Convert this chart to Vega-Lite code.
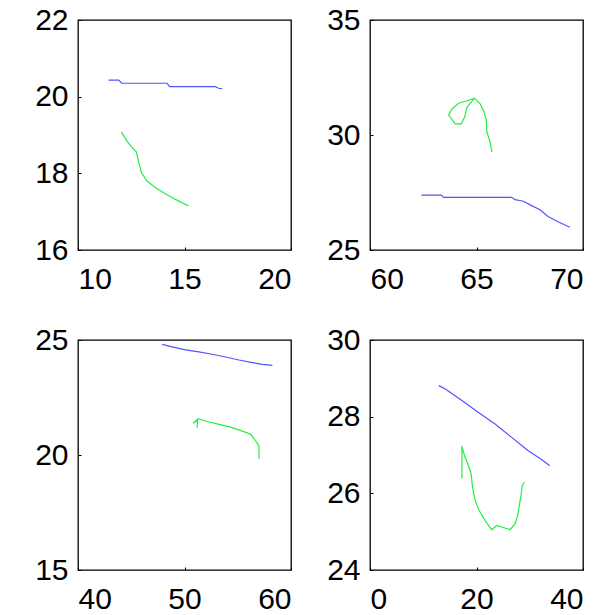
{
  "$schema": "https://vega.github.io/schema/vega-lite/v6.json",
  "background": "white",
  "padding": {"left": 33, "top": 4, "right": 0, "bottom": 0},
  "bounds": "flush",
  "columns": 2,
  "spacing": {"row": 90, "column": 79},
  "config": {
    "view": {"stroke": "black", "strokeWidth": 1.3, "continuousWidth": 213, "continuousHeight": 230},
    "axis": {"labelFont": "Liberation Sans", "labelFontSize": 30, "labelColor": "black", "domain": false, "grid": false, "ticks": true, "tickSize": -3, "tickColor": "black", "tickWidth": 1, "title": null},
    "axisX": {"labelPadding": 17},
    "axisY": {"labelPadding": 13},
    "line": {"strokeWidth": 1.2}
  },
  "datasets": {
    "d": [
      {"p": 1, "s": "b", "i": 1, "x": 11.44, "y": 20.43},
      {"p": 1, "s": "b", "i": 2, "x": 11.91, "y": 20.43},
      {"p": 1, "s": "b", "i": 3, "x": 12.05, "y": 20.35},
      {"p": 1, "s": "b", "i": 4, "x": 14.18, "y": 20.35},
      {"p": 1, "s": "b", "i": 5, "x": 14.3, "y": 20.26},
      {"p": 1, "s": "b", "i": 6, "x": 16.45, "y": 20.26},
      {"p": 1, "s": "b", "i": 7, "x": 16.6, "y": 20.22},
      {"p": 1, "s": "b", "i": 8, "x": 16.76, "y": 20.21},
      {"p": 1, "s": "g", "i": 1, "x": 12.04, "y": 19.08},
      {"p": 1, "s": "g", "i": 2, "x": 12.3, "y": 18.84},
      {"p": 1, "s": "g", "i": 3, "x": 12.51, "y": 18.69},
      {"p": 1, "s": "g", "i": 4, "x": 12.74, "y": 18.56},
      {"p": 1, "s": "g", "i": 5, "x": 12.85, "y": 18.28},
      {"p": 1, "s": "g", "i": 6, "x": 12.98, "y": 18.02},
      {"p": 1, "s": "g", "i": 7, "x": 13.24, "y": 17.8},
      {"p": 1, "s": "g", "i": 8, "x": 13.63, "y": 17.63},
      {"p": 1, "s": "g", "i": 9, "x": 14.1, "y": 17.47},
      {"p": 1, "s": "g", "i": 10, "x": 14.57, "y": 17.32},
      {"p": 1, "s": "g", "i": 11, "x": 15.2, "y": 17.15},
      {"p": 2, "s": "b", "i": 1, "x": 62.41, "y": 27.39},
      {"p": 2, "s": "b", "i": 2, "x": 63.35, "y": 27.39},
      {"p": 2, "s": "b", "i": 3, "x": 63.46, "y": 27.29},
      {"p": 2, "s": "b", "i": 4, "x": 66.65, "y": 27.29},
      {"p": 2, "s": "b", "i": 5, "x": 66.81, "y": 27.19},
      {"p": 2, "s": "b", "i": 6, "x": 67.2, "y": 27.12},
      {"p": 2, "s": "b", "i": 7, "x": 67.59, "y": 26.93},
      {"p": 2, "s": "b", "i": 8, "x": 67.98, "y": 26.75},
      {"p": 2, "s": "b", "i": 9, "x": 68.36, "y": 26.46},
      {"p": 2, "s": "b", "i": 10, "x": 68.83, "y": 26.23},
      {"p": 2, "s": "b", "i": 11, "x": 69.38, "y": 25.99},
      {"p": 2, "s": "g", "i": 1, "x": 65.72, "y": 29.27},
      {"p": 2, "s": "g", "i": 2, "x": 65.64, "y": 29.68},
      {"p": 2, "s": "g", "i": 3, "x": 65.49, "y": 30.12},
      {"p": 2, "s": "g", "i": 4, "x": 65.45, "y": 30.7},
      {"p": 2, "s": "g", "i": 5, "x": 65.33, "y": 31.06},
      {"p": 2, "s": "g", "i": 6, "x": 65.17, "y": 31.35},
      {"p": 2, "s": "g", "i": 7, "x": 64.91, "y": 31.6},
      {"p": 2, "s": "g", "i": 8, "x": 64.55, "y": 31.2},
      {"p": 2, "s": "g", "i": 9, "x": 64.44, "y": 30.77},
      {"p": 2, "s": "g", "i": 10, "x": 64.28, "y": 30.48},
      {"p": 2, "s": "g", "i": 11, "x": 64.0, "y": 30.48},
      {"p": 2, "s": "g", "i": 12, "x": 63.69, "y": 30.87},
      {"p": 2, "s": "g", "i": 13, "x": 63.85, "y": 31.13},
      {"p": 2, "s": "g", "i": 14, "x": 64.16, "y": 31.38},
      {"p": 2, "s": "g", "i": 15, "x": 64.55, "y": 31.49},
      {"p": 2, "s": "g", "i": 16, "x": 64.91, "y": 31.6},
      {"p": 3, "s": "b", "i": 1, "x": 47.9, "y": 24.81},
      {"p": 3, "s": "b", "i": 2, "x": 48.84, "y": 24.7},
      {"p": 3, "s": "b", "i": 3, "x": 50.1, "y": 24.57},
      {"p": 3, "s": "b", "i": 4, "x": 51.35, "y": 24.48},
      {"p": 3, "s": "b", "i": 5, "x": 52.6, "y": 24.38},
      {"p": 3, "s": "b", "i": 6, "x": 53.87, "y": 24.26},
      {"p": 3, "s": "b", "i": 7, "x": 55.12, "y": 24.13},
      {"p": 3, "s": "b", "i": 8, "x": 56.37, "y": 24.02},
      {"p": 3, "s": "b", "i": 9, "x": 57.31, "y": 23.94},
      {"p": 3, "s": "b", "i": 10, "x": 58.25, "y": 23.9},
      {"p": 3, "s": "g", "i": 1, "x": 51.19, "y": 21.19},
      {"p": 3, "s": "g", "i": 2, "x": 51.22, "y": 21.5},
      {"p": 3, "s": "g", "i": 3, "x": 50.81, "y": 21.38},
      {"p": 3, "s": "g", "i": 4, "x": 51.28, "y": 21.58},
      {"p": 3, "s": "g", "i": 5, "x": 51.98, "y": 21.48},
      {"p": 3, "s": "g", "i": 6, "x": 53.24, "y": 21.33},
      {"p": 3, "s": "g", "i": 7, "x": 54.49, "y": 21.19},
      {"p": 3, "s": "g", "i": 8, "x": 55.43, "y": 21.04},
      {"p": 3, "s": "g", "i": 9, "x": 56.22, "y": 20.9},
      {"p": 3, "s": "g", "i": 10, "x": 56.69, "y": 20.61},
      {"p": 3, "s": "g", "i": 11, "x": 57.0, "y": 20.39},
      {"p": 3, "s": "g", "i": 12, "x": 57.0, "y": 19.84},
      {"p": 4, "s": "b", "i": 1, "x": 12.9, "y": 28.81},
      {"p": 4, "s": "b", "i": 2, "x": 14.15, "y": 28.72},
      {"p": 4, "s": "b", "i": 3, "x": 17.26, "y": 28.42},
      {"p": 4, "s": "b", "i": 4, "x": 20.37, "y": 28.11},
      {"p": 4, "s": "b", "i": 5, "x": 23.49, "y": 27.81},
      {"p": 4, "s": "b", "i": 6, "x": 26.6, "y": 27.46},
      {"p": 4, "s": "b", "i": 7, "x": 29.72, "y": 27.11},
      {"p": 4, "s": "b", "i": 8, "x": 32.21, "y": 26.88},
      {"p": 4, "s": "b", "i": 9, "x": 33.77, "y": 26.72},
      {"p": 4, "s": "g", "i": 1, "x": 17.26, "y": 26.39},
      {"p": 4, "s": "g", "i": 2, "x": 17.26, "y": 27.23},
      {"p": 4, "s": "g", "i": 3, "x": 17.76, "y": 26.98},
      {"p": 4, "s": "g", "i": 4, "x": 18.5, "y": 26.72},
      {"p": 4, "s": "g", "i": 5, "x": 19.0, "y": 26.5},
      {"p": 4, "s": "g", "i": 6, "x": 19.25, "y": 26.16},
      {"p": 4, "s": "g", "i": 7, "x": 19.75, "y": 25.81},
      {"p": 4, "s": "g", "i": 8, "x": 20.5, "y": 25.55},
      {"p": 4, "s": "g", "i": 9, "x": 21.62, "y": 25.29},
      {"p": 4, "s": "g", "i": 10, "x": 22.86, "y": 25.05},
      {"p": 4, "s": "g", "i": 11, "x": 23.79, "y": 25.16},
      {"p": 4, "s": "g", "i": 12, "x": 25.05, "y": 25.11},
      {"p": 4, "s": "g", "i": 13, "x": 26.3, "y": 25.05},
      {"p": 4, "s": "g", "i": 14, "x": 27.23, "y": 25.2},
      {"p": 4, "s": "g", "i": 15, "x": 27.73, "y": 25.42},
      {"p": 4, "s": "g", "i": 16, "x": 28.04, "y": 25.68},
      {"p": 4, "s": "g", "i": 17, "x": 28.35, "y": 25.94},
      {"p": 4, "s": "g", "i": 18, "x": 28.6, "y": 26.2},
      {"p": 4, "s": "g", "i": 19, "x": 28.97, "y": 26.29}
    ]
  },
  "concat": [
    {
      "width": 213, "height": 230,
      "data": {"name": "d"},
      "transform": [{"filter": "datum.p == 1"}],
      "mark": {"type": "line"},
      "encoding": {
        "x": {"field": "x", "type": "quantitative", "scale": {"domain": [10, 20], "nice": false, "zero": false}, "axis": {"values": [10, 15, 20]}},
        "y": {"field": "y", "type": "quantitative", "scale": {"domain": [16, 22], "nice": false, "zero": false}, "axis": {"values": [16, 18, 20, 22]}},
        "color": {"field": "s", "type": "nominal", "scale": {"domain": ["b", "g"], "range": ["#5252ff", "#22ee44"]}, "legend": null},
        "order": {"field": "i", "type": "quantitative"}
      }
    },
    {
      "width": 213, "height": 230,
      "data": {"name": "d"},
      "transform": [{"filter": "datum.p == 2"}],
      "mark": {"type": "line"},
      "encoding": {
        "x": {"field": "x", "type": "quantitative", "scale": {"domain": [60, 70], "nice": false, "zero": false}, "axis": {"values": [60, 65, 70]}},
        "y": {"field": "y", "type": "quantitative", "scale": {"domain": [25, 35], "nice": false, "zero": false}, "axis": {"values": [25, 30, 35]}},
        "color": {"field": "s", "type": "nominal", "scale": {"domain": ["b", "g"], "range": ["#5252ff", "#22ee44"]}, "legend": null},
        "order": {"field": "i", "type": "quantitative"}
      }
    },
    {
      "width": 213, "height": 230,
      "data": {"name": "d"},
      "transform": [{"filter": "datum.p == 3"}],
      "mark": {"type": "line"},
      "encoding": {
        "x": {"field": "x", "type": "quantitative", "scale": {"domain": [40, 60], "nice": false, "zero": false}, "axis": {"values": [40, 50, 60]}},
        "y": {"field": "y", "type": "quantitative", "scale": {"domain": [15, 25], "nice": false, "zero": false}, "axis": {"values": [15, 20, 25]}},
        "color": {"field": "s", "type": "nominal", "scale": {"domain": ["b", "g"], "range": ["#5252ff", "#22ee44"]}, "legend": null},
        "order": {"field": "i", "type": "quantitative"}
      }
    },
    {
      "width": 213, "height": 230,
      "data": {"name": "d"},
      "transform": [{"filter": "datum.p == 4"}],
      "mark": {"type": "line"},
      "encoding": {
        "x": {"field": "x", "type": "quantitative", "scale": {"domain": [0, 40], "nice": false, "zero": false}, "axis": {"values": [0, 20, 40]}},
        "y": {"field": "y", "type": "quantitative", "scale": {"domain": [24, 30], "nice": false, "zero": false}, "axis": {"values": [24, 26, 28, 30]}},
        "color": {"field": "s", "type": "nominal", "scale": {"domain": ["b", "g"], "range": ["#5252ff", "#22ee44"]}, "legend": null},
        "order": {"field": "i", "type": "quantitative"}
      }
    }
  ]
}
